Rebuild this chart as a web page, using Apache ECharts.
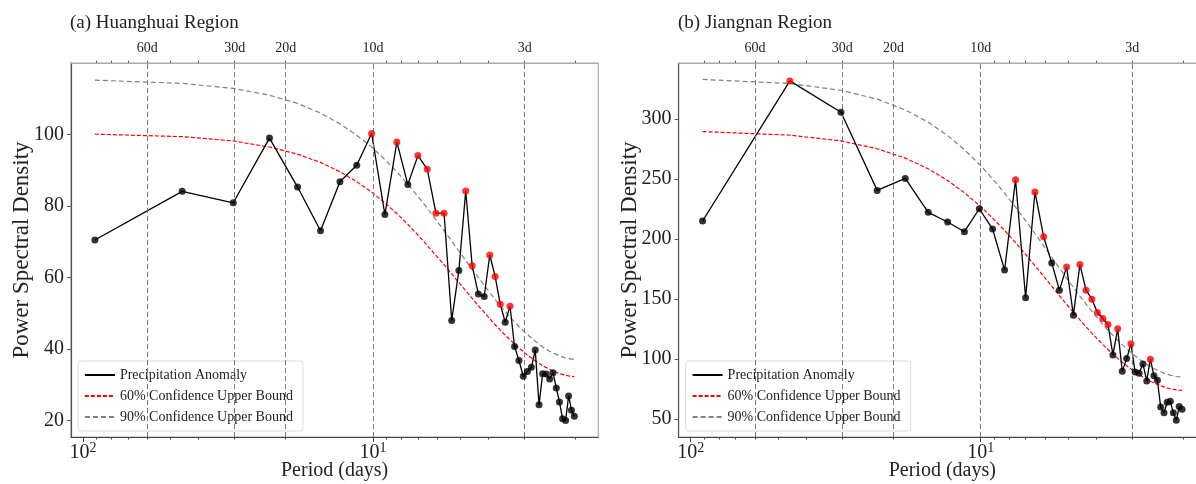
<!DOCTYPE html>
<html>
<head>
<meta charset="utf-8">
<script src="https://cdn.jsdelivr.net/npm/echarts@6/dist/echarts.min.js"></script>
<style>
  html, body { margin: 0; padding: 0; background: #fff; }
  #main { width: 1196px; height: 484px; }
</style>
</head>
<body>
<div id="main"></div>
<script>
// periods (days) of the spectral estimates, same for both regions
var periods = [91, 45.5, 30.33, 22.75, 18.2, 15.17, 13, 11.38, 10.11, 9.1,
  8.273, 7.583, 7, 6.5, 6.067, 5.688, 5.353, 5.056, 4.789, 4.55,
  4.333, 4.136, 3.957, 3.792, 3.64, 3.5, 3.37, 3.25, 3.138, 3.033,
  2.935, 2.844, 2.758, 2.676, 2.6, 2.528, 2.459, 2.395, 2.333, 2.275,
  2.22, 2.167, 2.116, 2.068, 2.022];

// (a) Huanghuai
var hhPsd = [70.5, 84.1, 80.9, 99.0, 85.3, 73.1, 86.8, 91.4, 100.3, 77.6,
  97.9, 86.0, 94.1, 90.3, 78.0, 78.0, 48.0, 62.0, 84.2, 63.3,
  55.4, 54.7, 66.3, 60.3, 52.5, 47.5, 52.0, 40.7, 36.8, 32.4,
  33.7, 34.9, 39.7, 24.4, 33.1, 33.0, 31.6, 33.4, 29.1, 25.2,
  20.5, 20.0, 26.9, 22.9, 21.2];
var hhConf60 = [100.1, 99.4, 98.2, 96.5, 94.5, 92.2, 89.6, 86.8, 83.9, 80.9,
  77.9, 74.9, 71.9, 69.0, 66.2, 63.6, 61.0, 58.6, 56.3, 54.2,
  52.1, 50.3, 48.5, 46.8, 45.3, 43.9, 42.6, 41.4, 40.3, 39.3,
  38.3, 37.5, 36.7, 36.0, 35.3, 34.8, 34.3, 33.8, 33.5, 33.1,
  32.9, 32.7, 32.5, 32.4, 32.3];
var hhConf90 = [115.2, 114.3, 112.9, 111.0, 108.7, 106.0, 103.0, 99.8, 96.5, 93.0,
  89.6, 86.1, 82.7, 79.4, 76.2, 73.1, 70.2, 67.4, 64.8, 62.3,
  60.0, 57.8, 55.8, 53.9, 52.1, 50.5, 49.0, 47.6, 46.3, 45.1,
  44.1, 43.1, 42.2, 41.4, 40.6, 40.0, 39.4, 38.9, 38.5, 38.1,
  37.8, 37.5, 37.4, 37.2, 37.2];
var hhSig = [9, 11, 13, 14, 15, 16, 19, 20, 23, 24, 25, 27];

// (b) Jiangnan
var jnPsd = [214.9, 331.6, 305.5, 240.4, 250.4, 222.1, 214.1, 206.0, 225.1, 208.2,
  174.0, 249.3, 151.0, 239.1, 201.8, 179.9, 157.3, 176.5, 136.5, 178.7,
  157.3, 149.8, 138.7, 133.7, 128.6, 103.4, 125.1, 89.8, 100.3, 112.6,
  89.2, 88.1, 95.9, 81.7, 99.8, 86.1, 82.3, 60.0, 55.3, 63.9,
  64.7, 55.3, 48.9, 60.3, 58.1];
var jnConf60 = [289.4, 286.4, 281.6, 275.1, 267.3, 258.4, 248.7, 238.4, 228.0, 217.4,
  207.0, 196.9, 187.1, 177.8, 168.9, 160.6, 152.8, 145.5, 138.8, 132.5,
  126.7, 121.5, 116.6, 112.0, 107.9, 104.0, 100.5, 97.3, 94.3, 91.6,
  89.2, 87.0, 84.9, 83.1, 81.5, 80.1, 78.8, 77.7, 76.7, 75.9,
  75.2, 74.7, 74.3, 74.0, 73.9];
var jnConf90 = [332.8, 329.4, 323.8, 316.4, 307.4, 297.2, 286.0, 274.2, 262.2, 250.0,
  238.1, 226.4, 215.2, 204.5, 194.2, 184.7, 175.7, 167.3, 159.6, 152.4,
  145.7, 139.7, 134.1, 128.8, 124.1, 119.6, 115.6, 111.9, 108.4, 105.3,
  102.6, 100.1, 97.6, 95.6, 93.7, 92.1, 90.6, 89.4, 88.2, 87.3,
  86.5, 85.9, 85.4, 85.1, 85.0];
var jnSig = [2, 12, 14, 15, 18, 20, 21, 22, 23, 24, 25, 27, 30, 35];

// axis ticks
var topTicks = [60, 30, 20, 10, 3];
var majorTicks = [100, 10];
var minorTicks = [90, 80, 70, 60, 50, 40, 30, 20, 9, 8, 7, 6, 5, 4, 3, 2];
var yTicksA = [20, 40, 60, 80, 100];
var yTicksB = [50, 100, 150, 200, 250, 300];

var FONT = 'Liberation Serif';
var names = ['Precipitation Anomaly', '60% Confidence Upper Bound', '90% Confidence Upper Bound'];
var xMin = 1.6715, xMax = 110.08;
var gridLeft = [70.9, 678.6];

function pairs(vals) {
  return vals.map(function (v, i) { return [periods[i], v]; });
}

function xAxes(g) {
  var base = { type: 'log', logBase: 10, gridIndex: g, inverse: true, min: xMin, max: xMax, splitLine: { show: false } };
  return [
    // bottom: 10^n labels and major ticks
    Object.assign({}, base, {
      position: 'bottom',
      name: 'Period (days)', nameLocation: 'middle', nameGap: 24, nameMoveOverlap: false,
      nameTextStyle: { fontFamily: FONT, fontSize: 20, color: '#222' },
      axisLine: { show: true, lineStyle: { color: '#444', width: 1.2 } },
      axisTick: { show: true, length: 5, customValues: majorTicks, lineStyle: { color: '#444' } },
      axisLabel: {
        customValues: majorTicks, margin: 4,
        formatter: function (v) { return '{b|10}{s|' + Math.round(Math.log10(v)) + '}'; },
        rich: {
          b: { fontFamily: FONT, fontSize: 20, color: '#222', lineHeight: 22, verticalAlign: 'bottom' },
          s: { fontFamily: FONT, fontSize: 14, color: '#222', lineHeight: 12, verticalAlign: 'top' }
        }
      }
    }),
    // bottom minor ticks
    Object.assign({}, base, {
      position: 'bottom',
      axisLine: { show: false },
      axisTick: { show: true, length: 2.5, customValues: minorTicks, lineStyle: { color: '#444' } },
      axisLabel: { show: false }
    }),
    // top: period markers in days
    Object.assign({}, base, {
      position: 'top',
      axisLine: { show: true, lineStyle: { color: '#aaa', width: 1.2 } },
      axisTick: { show: true, length: 2.5, customValues: minorTicks, lineStyle: { color: '#666' } },
      axisLabel: {
        customValues: topTicks, margin: 8,
        fontFamily: FONT, fontSize: 14, color: '#222',
        formatter: function (v) { return Math.round(v) + 'd'; }
      }
    })
  ];
}

function yAxis(g, lo, hi, ticks) {
  return {
    type: 'value', gridIndex: g, min: lo, max: hi,
    name: 'Power Spectral Density', nameLocation: 'middle', nameGap: 37, nameMoveOverlap: false,
    nameTextStyle: { fontFamily: FONT, fontSize: 23, color: '#222' },
    axisLine: { show: true, lineStyle: { color: '#555', width: 1.2 } },
    axisTick: { show: true, length: 4, customValues: ticks, lineStyle: { color: '#555' } },
    axisLabel: { customValues: ticks, margin: 7, fontFamily: FONT, fontSize: 20, color: '#222' },
    splitLine: { show: false }
  };
}

function panelSeries(g, psd, c60, c90, sig) {
  var xi = g * 3;
  return [
    {
      name: names[0], type: 'line', xAxisIndex: xi, yAxisIndex: g, data: pairs(psd),
      symbol: 'none', lineStyle: { color: '#000', width: 1.3 }, itemStyle: { color: '#000' }, z: 4,
      markLine: {
        silent: true, symbol: ['none', 'none'], label: { show: false },
        lineStyle: { color: '#777', width: 1, type: [5, 3] },
        data: topTicks.map(function (v) { return { xAxis: v }; })
      }
    },
    {
      name: names[1], type: 'line', xAxisIndex: xi, yAxisIndex: g, data: pairs(c60),
      symbol: 'none', lineStyle: { color: '#ff0000', width: 1.2, type: [4, 2] }, itemStyle: { color: '#ff0000' }, z: 3
    },
    {
      name: names[2], type: 'line', xAxisIndex: xi, yAxisIndex: g, data: pairs(c90),
      symbol: 'none', lineStyle: { color: '#808080', width: 1.2, type: [5, 3] }, itemStyle: { color: '#808080' }, z: 3
    },
    {
      name: 'pts' + g, type: 'scatter', xAxisIndex: xi, yAxisIndex: g, symbolSize: 7, z: 5,
      data: psd.map(function (v, i) {
        return { value: [periods[i], v], itemStyle: { color: sig.indexOf(i + 1) >= 0 ? '#ff0000' : '#000' } };
      })
    }
  ];
}

function legend(g) {
  return {
    data: names, orient: 'vertical', left: gridLeft[g] + 7, top: 361,
    itemWidth: 30, itemHeight: 14, itemGap: 7, padding: [7, 10, 7, 6],
    itemStyle: { opacity: 0 },
    backgroundColor: 'rgba(255,255,255,0.85)', borderColor: '#ddd', borderWidth: 1, borderRadius: 3,
    textStyle: { fontFamily: FONT, fontSize: 14, color: '#222' }
  };
}

var chart = echarts.init(document.getElementById('main'), null, { renderer: 'canvas' });
chart.setOption({
  animation: false,
  backgroundColor: '#fff',
  title: [
    { text: '(a) Huanghuai Region', left: 70, top: 14, padding: 0, textStyle: { fontFamily: FONT, fontSize: 19, fontWeight: 'normal', color: '#222' } },
    { text: '(b) Jiangnan Region', left: 678, top: 14, padding: 0, textStyle: { fontFamily: FONT, fontSize: 19, fontWeight: 'normal', color: '#222' } }
  ],
  legend: [legend(0), legend(1)],
  grid: [
    { left: gridLeft[0], top: 63, width: 527.4, height: 374, outerBoundsMode: 'none', show: true, borderColor: '#aaa', borderWidth: 1.2 },
    { left: gridLeft[1], top: 63, width: 527.4, height: 374, outerBoundsMode: 'none', show: true, borderColor: '#aaa', borderWidth: 1.2 }
  ],
  xAxis: xAxes(0).concat(xAxes(1)),
  yAxis: [yAxis(0, 15.4, 120, yTicksA), yAxis(1, 35, 346.5, yTicksB)],
  series: panelSeries(0, hhPsd, hhConf60, hhConf90, hhSig).concat(panelSeries(1, jnPsd, jnConf60, jnConf90, jnSig))
});
</script>
</body>
</html>
